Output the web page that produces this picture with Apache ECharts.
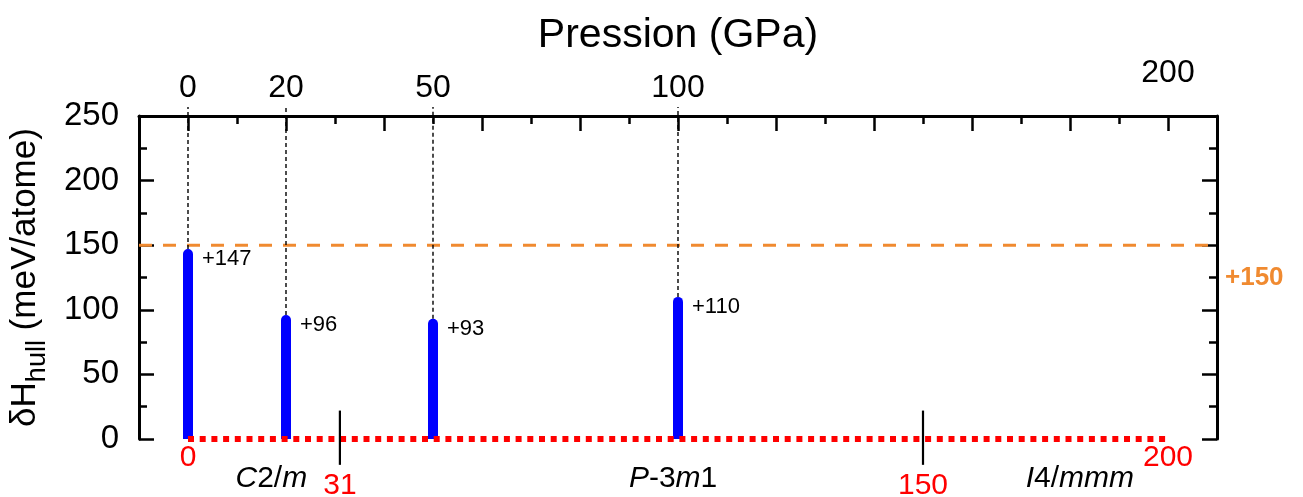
<!DOCTYPE html>
<html><head><meta charset="utf-8">
<script src="https://cdn.jsdelivr.net/npm/echarts@6/dist/echarts.min.js"></script>
<style>html,body{margin:0;padding:0;background:#fff}#c{width:1303px;height:497px}</style>
</head><body><div id="c"></div>
<script>
// ---- data ----
const pressures = [0, 20, 50, 100];          // GPa
const dHull = [147, 96, 93, 110];            // meV/atome
const threshold = 150;                       // meV/atome
const transitions = [0, 31, 150, 200];       // GPa
const phases = ['C2/m', 'P-3m1', 'I4/mmm'];
const phaseLabelX = [17, 99, 182];           // GPa, where phase names sit
const topLabels = [0, 20, 50, 100];
const topLabelHigh = [200];
const majorTicksX = [0, 20, 40, 60, 80, 100, 120, 140, 160, 180, 200];
const minorTicksX = [10, 30, 50, 70, 90, 110, 130, 150, 170, 190];
const xMin = -10, xMax = 210;
const yMin = 0, yMax = 250, yStep = 50;

// ---- chart ----
const FONT = '"Liberation Sans", Arial, sans-serif';
const chart = echarts.init(document.getElementById('c'));

function richPhase(name) {
  return name.replace(/([A-Za-z]+)|([^A-Za-z]+)/g, (m, a, b) => a ? '{i|' + a + '}' : '{n|' + b + '}');
}

const series = [];
const opaque = { opacity: 1 };

// red dotted line at 0 along the phase domain
series.push({
  type: 'line', data: [[transitions[0], 0], [transitions[transitions.length - 1], 0]],
  symbol: 'none', clip: false, z: 4, silent: true,
  lineStyle: { color: '#ff0000', width: 6, type: [6, 5.7], cap: 'butt' }
});

// blue sticks
series.push({
  type: 'bar', data: pressures.map((p, i) => [p, dHull[i]]),
  barWidth: 10, z: 3,
  itemStyle: { color: '#0000ff', borderRadius: [5, 5, 0, 0] },
  label: {
    show: true, position: [19, 10], align: 'left', verticalAlign: 'middle',
    formatter: p => '+' + p.value[1], fontSize: 22, color: '#000', fontFamily: FONT
  }
});

// black dashed guide lines
pressures.forEach((p, i) => {
  series.push({
    type: 'line', data: [[p, dHull[i]], [p, yMax + 7]], symbol: 'none', clip: false, z: 6, silent: true,
    lineStyle: { color: '#000', width: 1.4, type: [4, 3] }
  });
});

// orange threshold line
series.push({
  type: 'line', data: [[xMin, threshold], [xMax, threshold]], symbol: 'none', z: 2, silent: true,
  lineStyle: { color: '#f08a30', width: 3, type: [13, 11], cap: 'butt' }
});
series.push({
  type: 'scatter', data: [[xMax, threshold]], symbolSize: 0, clip: false, silent: true,
  itemStyle: opaque,
  label: {
    show: true, position: 'right', distance: 8, offset: [0, 33],
    formatter: '+' + threshold, color: '#f08a30', fontSize: 26, fontWeight: 'bold', fontFamily: FONT
  }
});

// phase boundary markers
transitions.slice(1, -1).forEach(t => {
  series.push({
    type: 'line', data: [[t, 22], [t, -20]], symbol: 'none', clip: false, z: 5, silent: true,
    lineStyle: { color: '#000', width: 2.2 }
  });
});

// transition pressure labels (red)
series.push({
  type: 'scatter', symbolSize: 0, clip: false, silent: true, itemStyle: opaque,
  data: transitions.map((t, i) => ({
    value: [t, 0],
    label: { offset: [0, (i === 0 || i === transitions.length - 1) ? 19 : 47] }
  })),
  label: {
    show: true, position: 'inside', formatter: p => String(p.value[0]),
    color: '#ff0000', fontSize: 30, fontFamily: FONT
  }
});

// phase names
series.push({
  type: 'scatter', symbolSize: 0, clip: false, silent: true, itemStyle: opaque,
  data: phases.map((n, i) => ({ value: [phaseLabelX[i], 0], name: n })),
  label: {
    show: true, position: 'inside', offset: [0, 40],
    formatter: p => richPhase(p.name),
    rich: {
      i: { fontSize: 30, fontStyle: 'italic', color: '#000', fontFamily: FONT },
      n: { fontSize: 30, color: '#000', fontFamily: FONT }
    }
  }
});

const tickStyle = { color: '#000', width: 2.5 };
const axisLineStyle = { color: '#000', width: 3 };

chart.setOption({
  animation: false,
  backgroundColor: '#fff',
  grid: { left: 139, right: 86, top: 116, bottom: 58 },
  xAxis: [{
    type: 'value', position: 'top', min: xMin, max: xMax,
    axisLine: { show: true, onZero: false, lineStyle: axisLineStyle },
    axisTick: { show: true, inside: true, length: 15, customValues: majorTicksX, lineStyle: tickStyle },
    axisLabel: { customValues: topLabels, fontSize: 32, color: '#000', margin: 12, fontFamily: FONT },
    splitLine: { show: false },
    name: 'Pression (GPa)', nameLocation: 'middle', nameGap: 60,
    nameTextStyle: { fontSize: 41, color: '#000', fontFamily: FONT }
  }, {
    type: 'value', position: 'top', min: xMin, max: xMax,
    axisLine: { show: false, onZero: false },
    axisTick: { show: true, inside: true, length: 8, customValues: minorTicksX, lineStyle: tickStyle },
    axisLabel: { customValues: topLabelHigh, fontSize: 32, color: '#000', margin: 27, fontFamily: FONT },
    splitLine: { show: false }
  }],
  yAxis: [{
    type: 'value', position: 'left', min: yMin, max: yMax, interval: yStep,
    axisLine: { show: true, onZero: false, lineStyle: axisLineStyle },
    axisTick: { show: true, inside: true, length: 15, lineStyle: tickStyle },
    minorTick: { show: true, splitNumber: 2, length: 8, lineStyle: tickStyle },
    axisLabel: { fontSize: 33, color: '#000', margin: 20, fontFamily: FONT },
    splitLine: { show: false },
    name: '{a|δH}{s|hull}{a| (meV/atome)}', nameLocation: 'middle', nameRotate: 90, nameGap: 88,
    nameTextStyle: {
      rich: {
        a: { fontSize: 35, color: '#000', fontFamily: FONT },
        s: { fontSize: 27, color: '#000', fontFamily: FONT, padding: [24, 0, 0, 0] }
      }
    }
  }, {
    type: 'value', position: 'right', min: yMin, max: yMax, interval: yStep,
    axisLine: { show: true, onZero: false, lineStyle: axisLineStyle },
    axisTick: { show: true, inside: true, length: 15, lineStyle: tickStyle },
    minorTick: { show: true, splitNumber: 2, length: 8, lineStyle: tickStyle },
    axisLabel: { show: false },
    splitLine: { show: false }
  }],
  series: series
});
</script>
</body></html>
